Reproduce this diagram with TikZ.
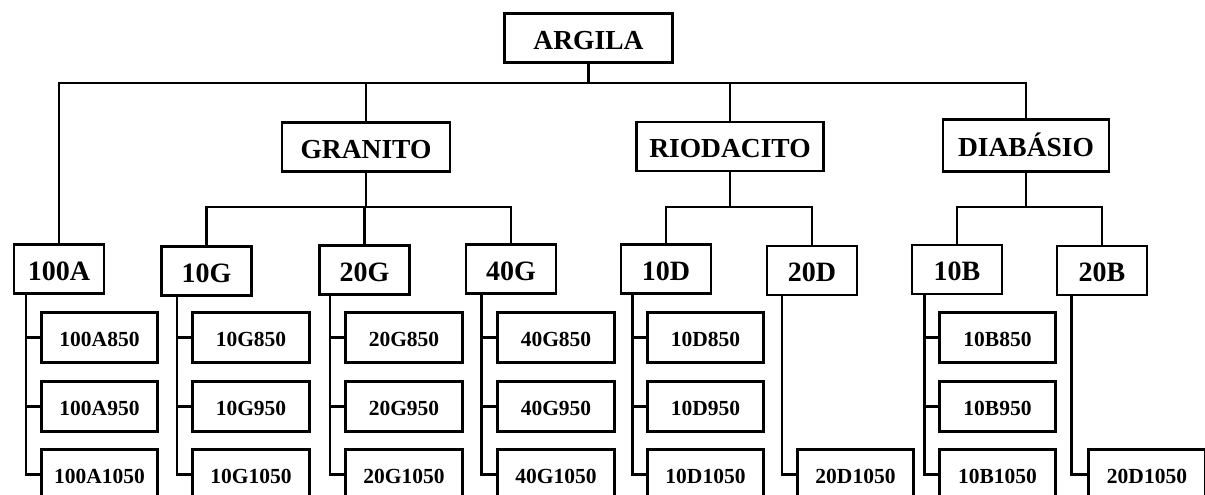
\documentclass[tikz,border=0pt]{standalone}
\usepackage{fontspec}
\setmainfont{Liberation Serif}
\begin{document}
\begin{tikzpicture}[x=1pt,y=-1pt,
  box/.style={draw, line width=2.9pt, inner sep=0pt, text depth=0pt, font=\bfseries},
  topbox/.style={box, minimum height=49pt, text height=22.2pt, font=\bfseries\fontsize{27.5}{30}\selectfont},
  midbox/.style={box, minimum width=90pt, minimum height=49pt, text height=22.5pt, font=\bfseries\fontsize{28}{30}\selectfont},
  leafbox/.style={box, minimum width=116.5pt, minimum height=50.5pt, text height=17.6pt, font=\bfseries\fontsize{21.5}{24}\selectfont},
  conn/.style={draw, line width=2.9pt}]
\useasboundingbox (0,0) rectangle (1205,495);
\clip (0,0) rectangle (1205,495);
% top level
\node[topbox, minimum width=168pt] (argila) at (588.5,38) {ARGILA};
\node[topbox, minimum width=168pt] (granito) at (366,147) {GRANITO};
\node[topbox, minimum width=187pt] (riodacito) at (730,146.5) {RIODACITO};
\node[topbox, minimum width=166pt, minimum height=52pt] (diabasio) at (1026,145.5) {DIAB\'ASIO};
% level 3
\node[midbox] (a100) at (59,269) {100A};
\node[midbox] (g10) at (206.5,271) {10G};
\node[midbox] (g20) at (364.5,270) {20G};
\node[midbox] (g40) at (511,269) {40G};
\node[midbox] (d10) at (666,269) {10D};
\node[midbox] (d20) at (812,270.5) {20D};
\node[midbox] (b10) at (957,269.5) {10B};
\node[midbox] (b20) at (1102,270.5) {20B};
% buses
\coordinate (busA) at (0,83);
\coordinate (busG) at (0,207);
\coordinate (busD) at (0,207);
\coordinate (busB) at (0,207);
\draw[conn] (argila.south) -- (argila.south |- busA);
\draw[conn] (a100.north) |- (diabasio.north |- busA) -- (diabasio.north);
\draw[conn] (granito.north) -- (granito.north |- busA);
\draw[conn] (riodacito.north) -- (riodacito.north |- busA);
\draw[conn] (granito.south) -- (granito.south |- busG);
\draw[conn] (g10.north) |- (g40.north |- busG) -- (g40.north);
\draw[conn] (g20.north) -- (g20.north |- busG);
\draw[conn] (riodacito.south) -- (riodacito.south |- busD);
\draw[conn] (d10.north) |- (d20.north |- busD) -- (d20.north);
\draw[conn] (diabasio.south) -- (diabasio.south |- busB);
\draw[conn] (b10.north) |- (b20.north |- busB) -- (b20.north);
% vertical spines
\coordinate (vA) at (26,0);
\coordinate (vG1) at (177,0);
\coordinate (vG2) at (330,0);
\coordinate (vG4) at (481.5,0);
\coordinate (vD1) at (632.5,0);
\coordinate (vD2) at (782,0);
\coordinate (vB1) at (924.5,0);
\coordinate (vB2) at (1071.5,0);
% leaves
\node[leafbox] (a850) at (99.5,337.6) {100A850};
\node[leafbox] (a950) at (99.5,406.4) {100A950};
\node[leafbox] (a1050) at (99.5,474.7) {100A1050};
\node[leafbox] (g10850) at (251,337.6) {10G850};
\node[leafbox] (g10950) at (251,406.4) {10G950};
\node[leafbox] (g101050) at (251,474.7) {10G1050};
\node[leafbox] (g20850) at (404,337.6) {20G850};
\node[leafbox] (g20950) at (404,406.4) {20G950};
\node[leafbox] (g201050) at (404,474.7) {20G1050};
\node[leafbox] (g40850) at (556,337.6) {40G850};
\node[leafbox] (g40950) at (556,406.4) {40G950};
\node[leafbox] (g401050) at (556,474.7) {40G1050};
\node[leafbox] (d10850) at (705.5,337.6) {10D850};
\node[leafbox] (d10950) at (705.5,406.4) {10D950};
\node[leafbox] (d101050) at (705.5,474.7) {10D1050};
\node[leafbox] (d201050) at (855.5,474.7) {20D1050};
\node[leafbox] (b10850) at (997.5,337.6) {10B850};
\node[leafbox] (b10950) at (997.5,406.4) {10B950};
\node[leafbox] (b101050) at (997.5,474.7) {10B1050};
\node[leafbox] (b201050) at (1147,474.7) {20D1050};
% spines and ticks
\draw[conn] (a100.south -| vA) |- (a1050.west);
\draw[conn] (a850.west) -- (a850.west -| vA);
\draw[conn] (a950.west) -- (a950.west -| vA);
\draw[conn] (g10.south -| vG1) |- (g101050.west);
\draw[conn] (g10850.west) -- (g10850.west -| vG1);
\draw[conn] (g10950.west) -- (g10950.west -| vG1);
\draw[conn] (g20.south -| vG2) |- (g201050.west);
\draw[conn] (g20850.west) -- (g20850.west -| vG2);
\draw[conn] (g20950.west) -- (g20950.west -| vG2);
\draw[conn] (g40.south -| vG4) |- (g401050.west);
\draw[conn] (g40850.west) -- (g40850.west -| vG4);
\draw[conn] (g40950.west) -- (g40950.west -| vG4);
\draw[conn] (d10.south -| vD1) |- (d101050.west);
\draw[conn] (d10850.west) -- (d10850.west -| vD1);
\draw[conn] (d10950.west) -- (d10950.west -| vD1);
\draw[conn] (d20.south -| vD2) |- (d201050.west);
\draw[conn] (b10.south -| vB1) |- (b101050.west);
\draw[conn] (b10850.west) -- (b10850.west -| vB1);
\draw[conn] (b10950.west) -- (b10950.west -| vB1);
\draw[conn] (b20.south -| vB2) |- (b201050.west);
\end{tikzpicture}
\end{document}
